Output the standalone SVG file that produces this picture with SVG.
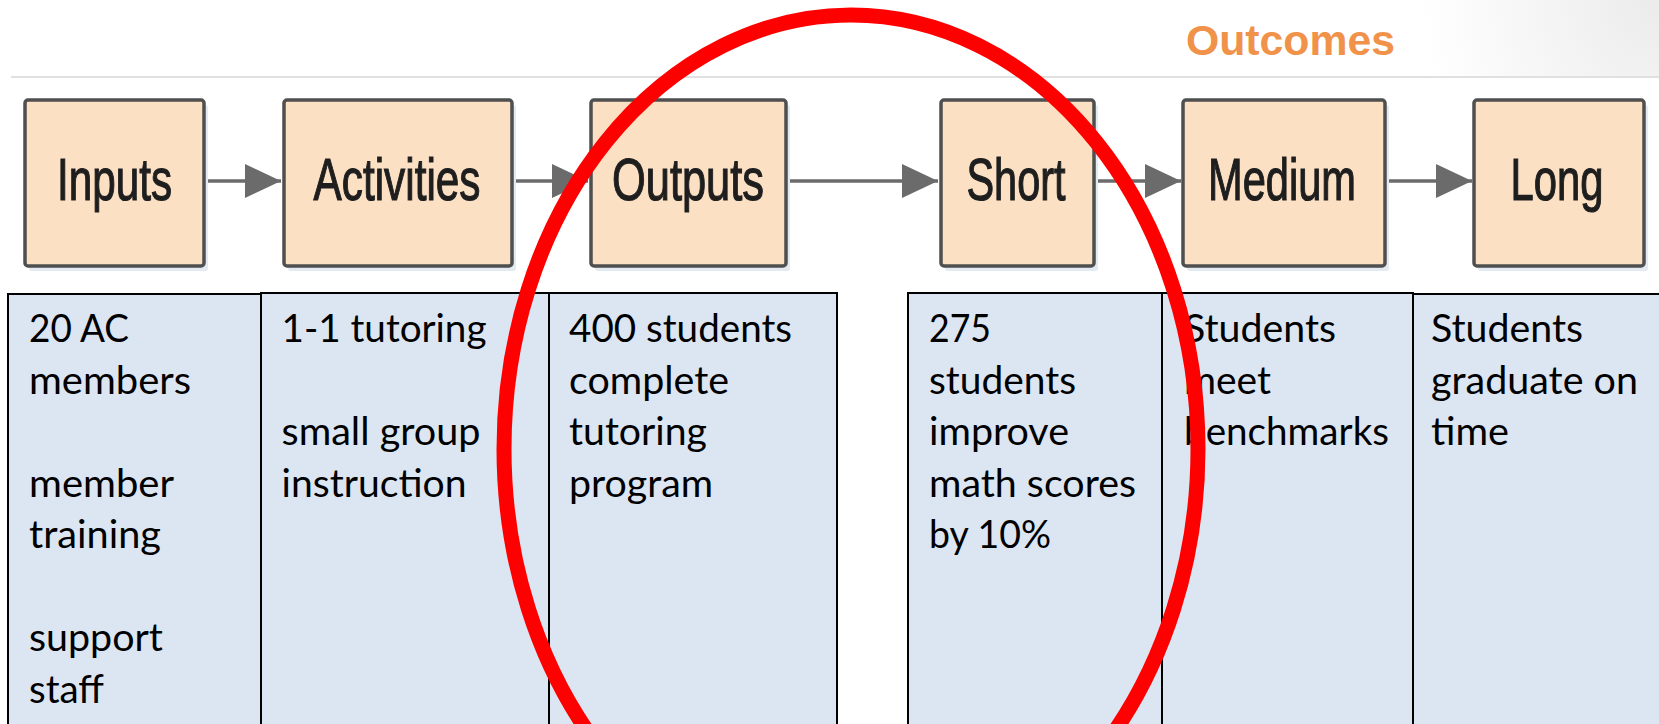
<svg xmlns="http://www.w3.org/2000/svg" width="1659" height="724" viewBox="0 0 1659 724">
<defs>
<style>
.box{fill:#FBE0C4;stroke:#4f4f4f;stroke-width:3.5}
.shadow{fill:#e3eaf2}
.lbl{font-family:"Liberation Sans",Arial,sans-serif;font-size:60px;fill:#1e1e1e;stroke:#1e1e1e;stroke-width:1.2;text-anchor:middle}
.col{fill:#DCE6F2;stroke:#000;stroke-width:2}
.cell{font-family:Lato,"Open Sans",sans-serif;font-size:38px;fill:#000}
.conn{stroke:#6b6b6b;stroke-width:3.5;fill:none}
</style>
<marker id="ah" markerUnits="userSpaceOnUse" markerWidth="36" markerHeight="34" refX="36" refY="17" orient="auto">
<path d="M0,0 L36,17 L0,34 Z" fill="#6b6b6b"/>
</marker>
<radialGradient id="corner" cx="1659" cy="0" r="240" gradientUnits="userSpaceOnUse">
<stop offset="0" stop-color="#ebebeb"/>
<stop offset="1" stop-color="#ffffff"/>
</radialGradient>
</defs>
<rect x="0" y="0" width="1659" height="724" fill="#fff"/>
<rect x="1300" y="0" width="359" height="76" fill="url(#corner)"/>
<line x1="11" y1="77" x2="1659" y2="77" stroke="#e0e0e0" stroke-width="2"/>
<g id="title">
<text x="1186" y="55" font-family="'Liberation Sans',Arial,sans-serif" font-size="43" font-weight="bold" fill="#F0924A" textLength="209" lengthAdjust="spacingAndGlyphs">Outcomes</text>
</g>
<g id="connectors">
<line class="conn" x1="204" y1="181" x2="281" y2="181" marker-end="url(#ah)"/>
<line class="conn" x1="512" y1="181" x2="588" y2="181" marker-end="url(#ah)"/>
<line class="conn" x1="786" y1="181" x2="938" y2="181" marker-end="url(#ah)"/>
<line class="conn" x1="1094" y1="181" x2="1181" y2="181" marker-end="url(#ah)"/>
<line class="conn" x1="1385" y1="181" x2="1472" y2="181" marker-end="url(#ah)"/>
</g>
<g id="inputs">
<rect class="shadow" x="29" y="105" width="179" height="166" rx="3"/>
<rect class="box" x="25" y="100" width="179" height="166" rx="3"/>
<text class="lbl" x="114.5" y="200" textLength="115" lengthAdjust="spacingAndGlyphs">Inputs</text>
</g>
<g id="activities">
<rect class="shadow" x="288" y="105" width="228" height="166" rx="3"/>
<rect class="box" x="284" y="100" width="228" height="166" rx="3"/>
<text class="lbl" x="397" y="200" textLength="167" lengthAdjust="spacingAndGlyphs">Activities</text>
</g>
<g id="outputs">
<rect class="shadow" x="595" y="105" width="195" height="166" rx="3"/>
<rect class="box" x="591" y="100" width="195" height="166" rx="3"/>
<text class="lbl" x="688" y="200" textLength="152" lengthAdjust="spacingAndGlyphs">Outputs</text>
</g>
<g id="short">
<rect class="shadow" x="945" y="105" width="153" height="166" rx="3"/>
<rect class="box" x="941" y="100" width="153" height="166" rx="3"/>
<text class="lbl" x="1016" y="200" textLength="99" lengthAdjust="spacingAndGlyphs">Short</text>
</g>
<g id="medium">
<rect class="shadow" x="1187" y="105" width="202" height="166" rx="3"/>
<rect class="box" x="1183" y="100" width="202" height="166" rx="3"/>
<text class="lbl" x="1282" y="200" textLength="148" lengthAdjust="spacingAndGlyphs">Medium</text>
</g>
<g id="long">
<rect class="shadow" x="1478" y="105" width="170" height="166" rx="3"/>
<rect class="box" x="1474" y="100" width="170" height="166" rx="3"/>
<text class="lbl" x="1557" y="200" textLength="93" lengthAdjust="spacingAndGlyphs">Long</text>
</g>
<g id="col-inputs">
<rect class="col" x="8" y="294" width="253" height="440"/>
<text class="cell" x="29" y="342" textLength="100" lengthAdjust="spacingAndGlyphs">20 AC</text>
<text class="cell" x="29" y="393.5" textLength="162" lengthAdjust="spacingAndGlyphs">members</text>
<text class="cell" x="29" y="496.5" textLength="145" lengthAdjust="spacingAndGlyphs">member</text>
<text class="cell" x="29" y="548" textLength="132" lengthAdjust="spacingAndGlyphs">training</text>
<text class="cell" x="29" y="651" textLength="134" lengthAdjust="spacingAndGlyphs">support</text>
<text class="cell" x="29" y="702.5" textLength="75" lengthAdjust="spacingAndGlyphs">staff</text>
</g>
<g id="col-activities">
<rect class="col" x="261" y="293" width="288" height="441"/>
<text class="cell" x="281.5" y="342" textLength="205" lengthAdjust="spacingAndGlyphs">1-1 tutoring</text>
<text class="cell" x="281.5" y="445" textLength="199" lengthAdjust="spacingAndGlyphs">small group</text>
<text class="cell" x="281.5" y="496.5" textLength="185" lengthAdjust="spacingAndGlyphs">instruction</text>
</g>
<g id="col-outputs">
<rect class="col" x="549" y="293" width="288" height="441"/>
<text class="cell" x="569" y="342" textLength="223" lengthAdjust="spacingAndGlyphs">400 students</text>
<text class="cell" x="569" y="393.5" textLength="160" lengthAdjust="spacingAndGlyphs">complete</text>
<text class="cell" x="569" y="445" textLength="138" lengthAdjust="spacingAndGlyphs">tutoring</text>
<text class="cell" x="569" y="496.5" textLength="144" lengthAdjust="spacingAndGlyphs">program</text>
</g>
<g id="col-short">
<rect class="col" x="908" y="293" width="254" height="441"/>
<text class="cell" x="929" y="342" textLength="62" lengthAdjust="spacingAndGlyphs">275</text>
<text class="cell" x="929" y="393.5" textLength="147" lengthAdjust="spacingAndGlyphs">students</text>
<text class="cell" x="929" y="445" textLength="140" lengthAdjust="spacingAndGlyphs">improve</text>
<text class="cell" x="929" y="496.5" textLength="207" lengthAdjust="spacingAndGlyphs">math scores</text>
<text class="cell" x="929" y="548" textLength="122" lengthAdjust="spacingAndGlyphs">by 10%</text>
</g>
<g id="col-medium">
<rect class="col" x="1162" y="293" width="251" height="441"/>
<text class="cell" x="1184" y="342" textLength="152" lengthAdjust="spacingAndGlyphs">Students</text>
<text class="cell" x="1184" y="393.5" textLength="87" lengthAdjust="spacingAndGlyphs">meet</text>
<text class="cell" x="1184" y="445" textLength="205" lengthAdjust="spacingAndGlyphs">benchmarks</text>
</g>
<g id="col-long">
<rect class="col" x="1413" y="294" width="260" height="440"/>
<text class="cell" x="1431" y="342" textLength="152" lengthAdjust="spacingAndGlyphs">Students</text>
<text class="cell" x="1431" y="393.5" textLength="207" lengthAdjust="spacingAndGlyphs">graduate on</text>
<text class="cell" x="1431" y="445" textLength="78" lengthAdjust="spacingAndGlyphs">time</text>
</g>
<g id="highlight">
<ellipse cx="851" cy="449" rx="347" ry="434" fill="none" stroke="#FF0000" stroke-width="15"/>
</g>
</svg>
